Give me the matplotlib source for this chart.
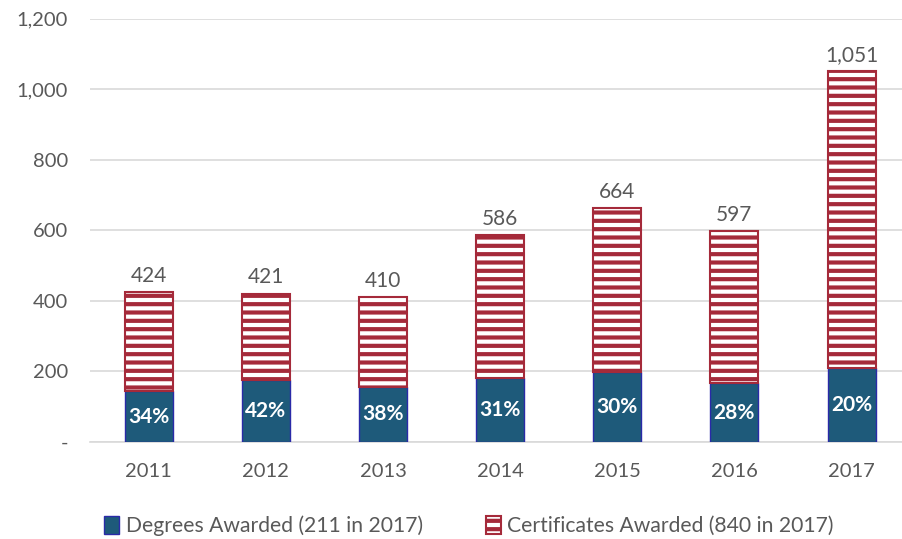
import numpy as np
import matplotlib.pyplot as plt
from matplotlib.ticker import FuncFormatter

years = ["2011", "2012", "2013", "2014", "2015", "2016", "2017"]
totals = [424, 421, 410, 586, 664, 597, 1051]
degrees = [144, 177, 156, 182, 199, 167, 211]
pct_labels = ["34%", "42%", "38%", "31%", "30%", "28%", "20%"]
certificates = [t - d for t, d in zip(totals, degrees)]

blue = "#1E5A7A"
red = "#A52A3A"
gray_txt = "#595959"

plt.rcParams['font.family'] = ['Lato', 'DejaVu Sans']
plt.rcParams['hatch.linewidth'] = 3.0

fig = plt.figure(figsize=(9.02, 5.39), dpi=100)
ax = fig.add_axes([0.1, 0.18, 0.909, 0.785])

x = np.arange(len(years))
w = 0.41
ax.bar(x, degrees, w, color=blue, edgecolor="#2A2AA8", linewidth=1, zorder=3,
       label="Degrees Awarded (211 in 2017)")
ax.bar(x, certificates, w, bottom=degrees, color="white", edgecolor=red, linewidth=1.5,
       hatch="--", zorder=3, label="Certificates Awarded (840 in 2017)")

for i in range(len(years)):
    ax.text(x[i], degrees[i] / 2, pct_labels[i], ha="center", va="center",
            color="white", fontsize=15, fontweight="bold", zorder=4)
    ax.text(x[i], totals[i] + 18, "{:,}".format(totals[i]), ha="center", va="bottom",
            color=gray_txt, fontsize=15, zorder=4)

ax.set_xlim(-0.5, 6.5)
ax.set_ylim(0, 1200)
ax.set_yticks(np.arange(0, 1201, 200))
ax.yaxis.set_major_formatter(FuncFormatter(lambda v, p: "-" if v == 0 else "{:,.0f}".format(v)))
ax.set_xticks(x)
ax.set_xticklabels(years)
ax.tick_params(axis="both", length=0, labelsize=14.5, colors=gray_txt)
ax.tick_params(axis="x", pad=15)
ax.tick_params(axis="y", pad=16)
ax.grid(axis="y", color="#D9D9D9", linewidth=1.2, zorder=0)
for s in ["top", "right", "left"]:
    ax.spines[s].set_visible(False)
ax.spines["bottom"].set_color("#D9D9D9")
ax.spines["bottom"].set_linewidth(1.2)

leg = fig.legend(loc="lower center", ncol=2, frameon=False, fontsize=15.2,
                 bbox_to_anchor=(0.52, -0.03), columnspacing=3, handlelength=0.7,
                 handleheight=0.9, handletextpad=0.3)
for t in leg.get_texts():
    t.set_color(gray_txt)

fig.savefig("out.png", dpi=100)
